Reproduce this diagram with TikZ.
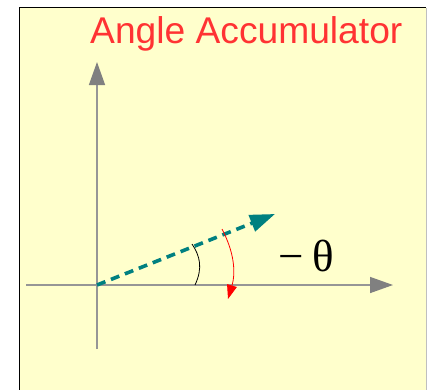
\documentclass[tikz,border=0pt]{standalone}
\usepackage{fontspec}
\setmainfont{Liberation Serif}
\newfontfamily\titlefont{Liberation Sans}
\usetikzlibrary{arrows.meta}
\definecolor{panelbg}{RGB}{255,255,204}
\definecolor{axisgray}{RGB}{150,150,150}
\definecolor{headgray}{RGB}{128,128,128}
\definecolor{titlered}{RGB}{255,51,51}
\definecolor{tealc}{RGB}{0,128,128}
\tikzset{
  axisline/.style={draw=axisgray, line width=1.4pt, -{Triangle[length=23pt,width=16pt,color=headgray,fill=headgray]}},
  vecline/.style={draw=tealc, line width=3.6pt, dash pattern=on 9pt off 6pt, -{Triangle[length=25pt,width=17pt,color=tealc,fill=tealc]}},
  rotline/.style={draw=red, line width=0.8pt, -{Triangle[length=14pt,width=10pt,color=red,fill=red]}},
  anglearc/.style={draw=black, line width=0.8pt},
  titletext/.style={text=titlered, font=\titlefont\fontsize{37.2}{40}\selectfont, inner sep=0pt, anchor=base west},
  thetatext/.style={text=black, font=\fontsize{45}{50}\selectfont, inner sep=0pt, anchor=base west}
}
\begin{document}
\begin{tikzpicture}[x=1pt,y=-1pt]
\useasboundingbox (0,0) rectangle (429,389);
\fill[white] (0,0) rectangle (429,389);
\fill[panelbg] (19.5,7.5) rectangle (426,395);
\draw[black, line width=1.2pt] (19.5,395) -- (19.5,7.5) -- (426,7.5);
\draw[black!25, line width=0.8pt] (426,7.5) -- (426,395);
\node[titletext] (title) at (90,43.3) {Angle Accumulator};
\coordinate (origin) at (97,285);
\coordinate (xstart) at (26,285);
\coordinate (xend) at (393,285);
\coordinate (ybot) at (97,349);
\coordinate (yend) at (97,62);
\coordinate (vtip) at (275,214);
\draw[axisline] (xstart) -- (xend);
\draw[axisline] (ybot) -- (yend);
\draw[vecline] (origin) -- (vtip);
\coordinate (arcA) at (195,285);
\coordinate (arcB) at (192,244);
\draw[anglearc] (arcA) .. controls (203,268) and (200,256) .. (arcB);
\coordinate (rotA) at (222,229);
\coordinate (rotB) at (228,299);
\draw[rotline] (rotA) .. controls (234,252) and (236,272) .. (rotB);
\node[thetatext] (theta) at (278,271.5) {−\hspace{9pt}θ};
\end{tikzpicture}
\end{document}
